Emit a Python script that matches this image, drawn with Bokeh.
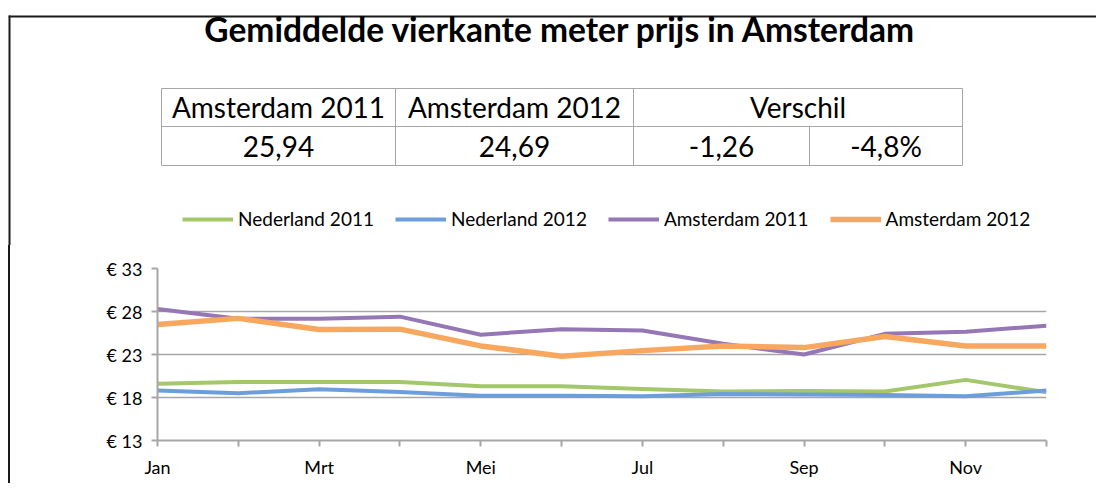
from bokeh.plotting import figure
from bokeh.layouts import column
from bokeh.models import Range1d, FixedTicker, Legend, LegendItem
from bokeh.core.properties import value
from bokeh.embed import file_html
from bokeh.resources import INLINE

# ---------------- data ----------------
chart_title = "Gemiddelde vierkante meter prijs in Amsterdam"
months = ["Jan", "Feb", "Mrt", "Apr", "Mei", "Jun", "Jul", "Aug", "Sep", "Okt", "Nov", "Dec"]
series_names = ["Nederland 2011", "Nederland 2012", "Amsterdam 2011", "Amsterdam 2012"]
nederland_2011 = [19.6, 19.8, 19.8, 19.8, 19.3, 19.3, 19.0, 18.7, 18.75, 18.7, 20.05, 18.6]
nederland_2012 = [18.8, 18.5, 18.95, 18.65, 18.2, 18.2, 18.15, 18.4, 18.35, 18.3, 18.15, 18.8]
amsterdam_2011 = [28.3, 27.15, 27.15, 27.4, 25.3, 25.95, 25.8, 24.25, 23.0, 25.4, 25.65, 26.35]
amsterdam_2012 = [26.5, 27.2, 25.9, 25.95, 24.0, 22.8, 23.45, 24.0, 23.8, 25.1, 24.0, 24.0]
table_header = ["Amsterdam 2011", "Amsterdam 2012", "Verschil"]
table_values = ["25,94", "24,69", "-1,26", "-4,8%"]
y_ticks = [13, 18, 23, 28, 33]

# ---------------- styles ----------------
FONT = "Lato"
W = 1086
HW = W + 2
HH = 245
CH = 238
GRID = "#a6a6a6"
FRAME = "#1a1a1a"
colors = ["#a3c76a", "#6d9edc", "#9577b5", "#f8a85e"]
widths = [4, 4, 4, 5.5]

# ---------------- header (border, title, table, legend) ----------------
hdr = figure(width=HW, height=HH, x_range=Range1d(0, HW), y_range=Range1d(HH, 0),
             output_backend="svg", toolbar_location=None, min_border=0,
             x_axis_location=None, y_axis_location=None)
hdr.frame_align = False
hdr.grid.visible = False
hdr.outline_line_color = None

# outer frame (top and left edge)
hdr.segment(x0=[0], x1=[HW], y0=[16], y1=[16], line_color=FRAME, line_width=2)
hdr.segment(x0=[0], x1=[0], y0=[15], y1=[HH], line_color=FRAME, line_width=4)

hdr.text(x=[552], y=[28], text=[chart_title], text_align="center", text_baseline="middle",
         text_font=value(FONT), text_font_style="bold", text_font_size="33.5px", text_color="black")

xe = [153, 387, 625, 801, 954]
ye = [88, 126, 165]
hdr.segment(x0=[xe[0]] * 3, x1=[xe[-1]] * 3, y0=ye, y1=ye, line_color=GRID, line_width=1)
hdr.segment(x0=[xe[0], xe[1], xe[2], xe[4], xe[3]], x1=[xe[0], xe[1], xe[2], xe[4], xe[3]],
            y0=[ye[0], ye[0], ye[0], ye[0], ye[1]], y1=[ye[2]] * 5, line_color=GRID, line_width=1)

hx = [(xe[0] + xe[1]) / 2, (xe[1] + xe[2]) / 2, (xe[2] + xe[4]) / 2]
vx = [(xe[0] + xe[1]) / 2, (xe[1] + xe[2]) / 2, (xe[2] + xe[3]) / 2, (xe[3] + xe[4]) / 2]
hdr.text(x=hx, y=[(ye[0] + ye[1]) / 2 - 1] * 3, text=table_header, text_align="center",
         text_baseline="middle", text_font=value(FONT), text_font_size="28px", text_color="black")
hdr.text(x=vx, y=[(ye[1] + ye[2]) / 2] * 4, text=table_values, text_align="center",
         text_baseline="middle", text_font=value(FONT), text_font_size="28px", text_color="black")

# legend keys (the series themselves are drawn in the chart below)
nan = float("nan")
key_renderers = [hdr.line(x=[nan], y=[nan], line_color=c, line_width=w) for c, w in zip(colors, widths)]
legend = Legend(items=[LegendItem(label=n, renderers=[r]) for n, r in zip(series_names, key_renderers)],
                orientation="horizontal", location=(174, 15),
                border_line_alpha=0, background_fill_alpha=0, padding=0, margin=0,
                spacing=21, label_standoff=5, glyph_width=51, glyph_height=20, label_height=20,
                label_text_font=FONT, label_text_font_size="19px", label_text_color="black")
hdr.add_layout(legend)

# ---------------- chart ----------------
p = figure(width=W, height=CH, x_range=Range1d(0, len(months) - 1), y_range=Range1d(y_ticks[0], y_ticks[-1]),
           output_backend="svg", toolbar_location=None,
           min_border_left=147, min_border_right=50, min_border_top=23, min_border_bottom=43)
p.frame_align = False
p.outline_line_color = None
p.xgrid.visible = False
p.ygrid.ticker = FixedTicker(ticks=y_ticks)
p.ygrid.grid_line_color = GRID
p.ygrid.grid_line_width = 1.5

xs = list(range(len(months)))
for ys, c, w in zip([nederland_2011, nederland_2012, amsterdam_2011, amsterdam_2012], colors, widths):
    p.line(xs, ys, line_color=c, line_width=w, line_join="round")

p.xaxis.ticker = FixedTicker(ticks=xs)
p.xaxis.major_label_overrides = {i: (m if i % 2 == 0 else "") for i, m in enumerate(months)}
p.yaxis.ticker = FixedTicker(ticks=y_ticks)
p.yaxis.major_label_overrides = {t: f"€ {t}" for t in y_ticks}
for ax in (p.xaxis[0], p.yaxis[0]):
    ax.axis_line_color = GRID
    ax.axis_line_width = 2
    ax.major_tick_line_color = GRID
    ax.major_tick_line_width = 2
    ax.major_tick_out = 6
    ax.major_tick_in = 0
    ax.minor_tick_line_color = None
    ax.major_label_text_font = FONT
    ax.major_label_text_font_size = "18px"
    ax.major_label_text_color = "black"
p.xaxis.major_label_standoff = 9
p.yaxis.major_label_standoff = 9

chart = column(p, styles={"border-left": f"2px solid {FRAME}"})
layout = column(hdr, chart, margin=(0, 0, 0, 8))

open("out.html", "w").write(file_html(layout, INLINE))
